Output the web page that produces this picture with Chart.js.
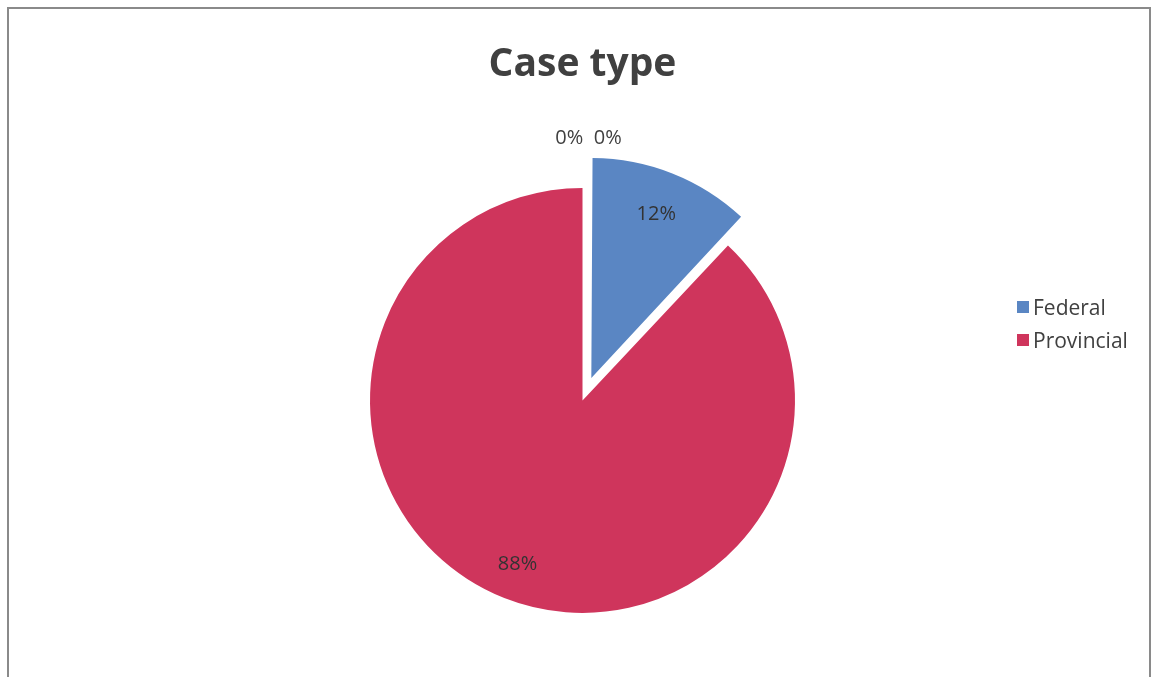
<!DOCTYPE html>
<html>
<head>
<meta charset="utf-8">
<title>Case type</title>
<script src="https://cdn.jsdelivr.net/npm/chart.js@4.4.1/dist/chart.umd.min.js"></script>
<style>
  html, body { margin: 0; padding: 0; background: #fff; }
  #wrap { position: relative; width: 1153px; height: 677px; overflow: hidden; }
  #frame {
    position: absolute; left: 7px; top: 7px; width: 1140px; height: 700px;
    border: 2px solid #8a8a8a; border-bottom: none;
  }
  #legend {
    position: absolute; left: 1017px; top: 290px;
    font-family: "Open Sans", sans-serif; font-size: 21px; color: #404040;
  }
  #legend .item { display: flex; align-items: center; height: 33px; }
  #legend .box { width: 12px; height: 12px; margin-right: 4px; }
</style>
</head>
<body>
<div id="wrap">
  <div id="frame"></div>
  <canvas id="caseChart" width="1153" height="677"></canvas>
  <div id="legend"></div>
</div>
<script>
// Case type shares (%), the two trailing categories are empty in the source
const categories = ['Federal', 'Provincial', '', ''];
const shares = [12, 88, 0, 0];

const sliceColors = ['#5a86c3', '#cf355c', '#9bbb59', '#8064a2'];

// draws the percentage labels like Excel does
const sliceLabels = {
  id: 'sliceLabels',
  afterDatasetsDraw(chart) {
    const ctx = chart.ctx;
    const meta = chart.getDatasetMeta(0);
    const data = chart.data.datasets[0].data;
    const total = data.reduce((a, b) => a + b, 0);
    const zeros = [];

    ctx.save();
    ctx.font = '20px "Open Sans"';
    ctx.textAlign = 'center';
    ctx.textBaseline = 'middle';

    meta.data.forEach((arc, i) => {
      const pct = Math.round((data[i] / total) * 100) + '%';
      const { x, y, startAngle, endAngle, outerRadius } = arc.getProps(
        ['x', 'y', 'startAngle', 'endAngle', 'outerRadius'],
        true
      );
      if (data[i] === 0) {
        zeros.push({ pct, angle: endAngle, x, y, r: outerRadius });
        return;
      }
      const mid = (startAngle + endAngle) / 2;
      // arcs are pushed out by offset / 4 when drawn
      const d = outerRadius * 0.83 + (arc.options.offset || 0) / 4;
      ctx.fillStyle = '#333333';
      ctx.fillText(pct, x + Math.cos(mid) * d, y + Math.sin(mid) * d);
    });

    // empty slices sit at the top, their labels end up side by side above the pie
    if (zeros.length) {
      const z = zeros[0];
      const d = z.r + 50;
      ctx.fillStyle = '#404040';
      ctx.fillText(
        zeros.map((item) => item.pct).join('  '),
        z.x + Math.cos(z.angle) * d + 6,
        z.y + Math.sin(z.angle) * d
      );
    }
    ctx.restore();
  },
};

const chart = new Chart(document.getElementById('caseChart').getContext('2d'), {
  type: 'pie',
  data: {
    labels: categories,
    datasets: [
      {
        data: shares,
        backgroundColor: sliceColors,
        borderWidth: 0,
        hoverBorderWidth: 0,
        offset: [96, 0, 0, 0],
        hoverOffset: 0,
      },
    ],
  },
  options: {
    responsive: false,
    animation: false,
    layout: {
      padding: { top: 41, left: 322, right: 310, bottom: 7 },
    },
    plugins: {
      legend: { display: false },
      tooltip: { enabled: false },
      title: {
        display: true,
        text: 'Case type',
        color: '#404040',
        font: { family: 'Open Sans', size: 39, weight: 'bold' },
        padding: { top: 0, bottom: 43 },
      },
    },
  },
  plugins: [sliceLabels],
});

// legend only lists the named categories
const legendDiv = document.getElementById('legend');
categories.forEach((name, i) => {
  if (!name) return;
  const row = document.createElement('div');
  row.className = 'item';
  row.innerHTML = `<span class="box" style="background:${sliceColors[i]}"></span><span>${name}</span>`;
  legendDiv.appendChild(row);
});
</script>
</body>
</html>
